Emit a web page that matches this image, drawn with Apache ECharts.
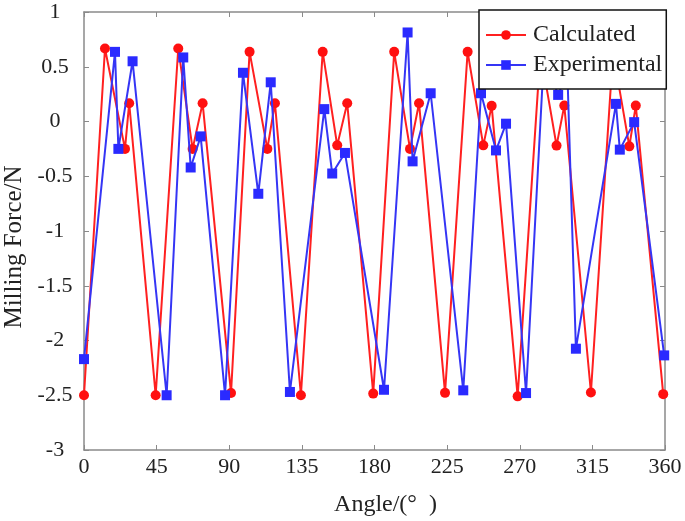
<!DOCTYPE html>
<html>
<head>
<meta charset="utf-8">
<script src="https://cdn.jsdelivr.net/npm/echarts@6/dist/echarts.min.js"></script>
<style>html,body{margin:0;padding:0;background:#fff;}#chart{width:685px;height:521px;}</style>
</head>
<body>
<div id="chart"></div>
<script>
const calcAngle = [0, 13, 25.4, 28, 44.4, 58.4, 67.3, 73.5, 91.1, 102.6, 113.6, 118.3, 134.4, 147.9, 156.9, 163.1, 179.2, 192.2, 202, 207.6, 223.7, 237.7, 247.4, 252.6, 268.7, 282.8, 292.8, 297.6, 314.1, 327.8, 337.9, 341.9, 358.9];
const calcForce = [-2.5, 0.667, -0.25, 0.167, -2.5, 0.667, -0.25, 0.167, -2.48, 0.636, -0.25, 0.167, -2.5, 0.636, -0.218, 0.167, -2.485, 0.636, -0.25, 0.167, -2.478, 0.636, -0.218, 0.143, -2.51, 0.636, -0.22, 0.145, -2.475, 0.636, -0.227, 0.145, -2.49];
const expAngle = [0, 19.2, 21.3, 30.1, 51.2, 61.5, 66.1, 72.3, 87.4, 98.5, 108, 115.7, 127.6, 148.9, 153.8, 161.7, 185.9, 200.5, 203.6, 214.8, 235, 246, 255.3, 261.5, 273.9, 285, 293.8, 299.5, 304.8, 329.6, 332, 340.9, 359.5];
const expForce = [-2.17, 0.636, -0.25, 0.55, -2.5, 0.585, -0.42, -0.136, -2.5, 0.445, -0.66, 0.358, -2.47, 0.113, -0.475, -0.287, -2.45, 0.813, -0.364, 0.258, -2.455, 0.258, -0.264, -0.02, -2.48, 0.6, 0.243, 0.45, -2.075, 0.161, -0.257, -0.006, -2.136];
const xTicks = [0, 45, 90, 135, 180, 225, 270, 315, 360];
const yTicks = [-3, -2.5, -2, -1.5, -1, -0.5, 0, 0.5, 1];
const seriesNames = ['Calculated', 'Experimental'];

const font = "'Liberation Serif', 'Times New Roman', serif";
const axisCol = '#8a8a8a';
const txtCol = '#222';

const chart = echarts.init(document.getElementById('chart'), null, {renderer: 'canvas'});
const xBase = {
  type: 'value', min: xTicks[0], max: xTicks[xTicks.length - 1], interval: xTicks[1] - xTicks[0],
  splitLine: {show: false},
  axisLine: {show: true, onZero: false, lineStyle: {color: axisCol, width: 1.5}},
  axisTick: {show: true, inside: true, length: 5, lineStyle: {color: axisCol}}
};
const yBase = {
  type: 'value', min: yTicks[0], max: yTicks[yTicks.length - 1], interval: yTicks[1] - yTicks[0],
  splitLine: {show: false},
  axisLine: {show: true, onZero: false, lineStyle: {color: axisCol, width: 1.5}},
  axisTick: {show: true, inside: true, length: 5, lineStyle: {color: axisCol}}
};
chart.setOption({
  animation: false,
  backgroundColor: '#fff',
  grid: {left: 84, right: 20, top: 12, bottom: 71, containLabel: false, outerBoundsMode: 'none'},
  legend: {
    data: seriesNames,
    orient: 'vertical',
    left: 479, top: 10,
    backgroundColor: '#fff',
    borderColor: '#111', borderWidth: 1.5,
    padding: [13, 4, 12, 6],
    itemWidth: 40, itemHeight: 12, itemGap: 6,
    textStyle: {fontFamily: font, fontSize: 24, color: txtCol, padding: [0, 0, 0, 2]}
  },
  xAxis: [
    Object.assign({}, xBase, {
      position: 'bottom',
      name: 'Angle/(°  )', nameLocation: 'middle', nameGap: 43,
      nameTextStyle: {fontFamily: font, fontSize: 24, color: txtCol, padding: [0, 0, 0, 22]},
      axisLabel: {fontFamily: font, fontSize: 22, color: txtCol, margin: 6,
        formatter: v => String(v)}
    }),
    Object.assign({}, xBase, {position: 'top', axisLabel: {show: false}})
  ],
  yAxis: [
    Object.assign({}, yBase, {
      position: 'left',
      name: 'Milling Force/N', nameLocation: 'middle', nameGap: 56,
      nameTextStyle: {fontFamily: font, fontSize: 25, color: txtCol, padding: [0, 32, 0, 0]},
      axisLabel: {fontFamily: font, fontSize: 22, color: txtCol, margin: 29, align: 'center',
        formatter: v => String(v)}
    }),
    Object.assign({}, yBase, {position: 'right', axisLabel: {show: false}})
  ],
  series: [
    {
      name: seriesNames[0], type: 'line', xAxisIndex: 0, yAxisIndex: 0,
      data: calcAngle.map((a, i) => [a, calcForce[i]]),
      symbol: 'circle', symbolSize: 10, showAllSymbol: true,
      lineStyle: {color: '#ff2020', width: 2},
      itemStyle: {color: '#ff1010'},
      z: 2
    },
    {
      name: seriesNames[1], type: 'line', xAxisIndex: 0, yAxisIndex: 0,
      data: expAngle.map((a, i) => [a, expForce[i]]),
      symbol: 'rect', symbolSize: 10, showAllSymbol: true,
      lineStyle: {color: '#3535f5', width: 2},
      itemStyle: {color: '#2a2aff'},
      z: 3
    }
  ]
});
</script>
</body>
</html>
